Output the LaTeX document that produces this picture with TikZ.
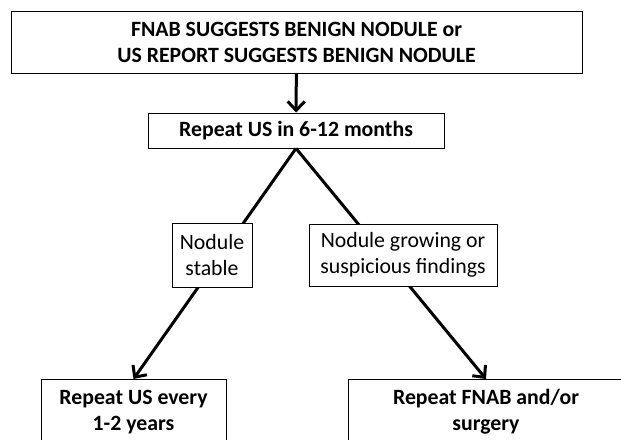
\documentclass[tikz,border=0pt]{standalone}
\usepackage{fontspec}
\setmainfont{Carlito}
\usepackage{tikz}
\usetikzlibrary{arrows.meta}
\tikzset{>={Straight Barb[length=9pt,width=17pt]}}

\begin{document}
\begin{tikzpicture}[x=1pt,y=-1pt]
    \def\lw{3pt}
    \def\fs{\fontsize{21.8}{26}\selectfont}

    \tikzset{box/.style={draw, line width=0.8pt, fill=white, align=center, inner sep=0pt, font=\fs},
             boldbox/.style={box, font=\bfseries\fs}}

    \useasboundingbox (0,0) rectangle (621,439);
    \clip (0,0) rectangle (621,439);

    \node[boldbox, minimum width=571pt, minimum height=62pt] (suggest) at (296.5,42)
        {FNAB SUGGESTS BENIGN NODULE or\\US REPORT SUGGESTS BENIGN NODULE};
    \node[boldbox, minimum width=296pt, minimum height=35pt] (repeat) at (296,130.5)
        {Repeat US in 6-12 months};

    \node[boldbox, minimum width=185pt, minimum height=65pt, anchor=north] (every) at (133.5,379)
        {Repeat US every\\1-2 years};
    \node[boldbox, minimum width=276pt, minimum height=65pt, anchor=north] (fnab) at (486,379)
        {Repeat FNAB and/or\\surgery};

    \draw[->, line width=\lw] (suggest) -- (repeat);
    \draw[->, line width=\lw] (repeat.south) -- (every.north);
    \draw[->, line width=\lw] (repeat.south) -- (fnab.north);

    % Findings
    \node[box, minimum width=80pt, minimum height=64pt] (stable) at (212,255)
        {Nodule\\stable};
    \node[box, minimum width=188pt, minimum height=62pt] (growing) at (403,255)
        {Nodule growing or\\suspicious findings};
\end{tikzpicture}
\end{document}
